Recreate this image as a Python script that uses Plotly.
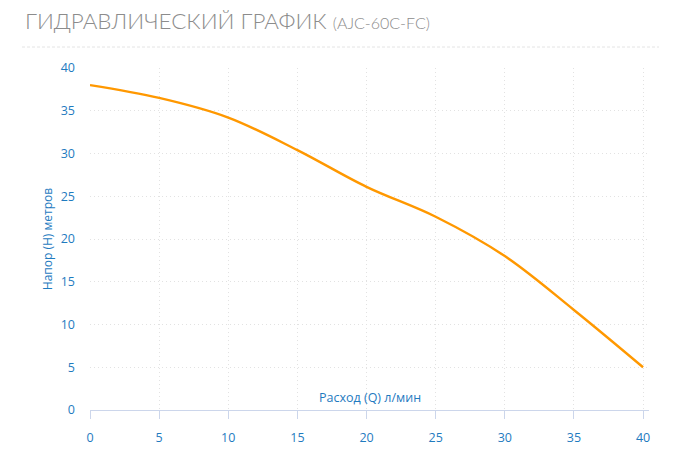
import plotly.graph_objects as go

# расход (л/мин) и напор (м)
flow = [0, 5, 10, 15, 20, 25, 30, 35, 40]
head = [38, 36.5, 34.2, 30.4, 26.1, 22.6, 18, 11.7, 5]

x_ticks = [0, 5, 10, 15, 20, 25, 30, 35, 40]
y_ticks = [0, 5, 10, 15, 20, 25, 30, 35, 40]

blue = "#1f7bbf"
grid = "#e2e2e2"

fig = go.Figure()
fig.add_trace(go.Scatter(
    x=flow, y=head, mode="lines",
    line=dict(color="#ff9800", width=2.4, shape="spline", smoothing=1.0),
    hoverinfo="x+y", showlegend=False,
))

# страница добавляет 8px отступа, поэтому размеры чуть меньше окна
fig.update_layout(
    width=674, height=461,
    margin=dict(l=82, r=33, t=60, b=59, autoexpand=False),
    paper_bgcolor="white", plot_bgcolor="white",
    font=dict(family="Open Sans", size=12, color=blue),
    annotations=[
        dict(text="ГИДРАВЛИЧЕСКИЙ ГРАФИК <span style='font-size:16px'>(AJC-60C-FC)</span>",
             xref="paper", yref="paper", x=0, y=1, xshift=-67, yshift=48,
             xanchor="left", yanchor="middle", showarrow=False,
             font=dict(family="Lato", size=22.4, color="#8c8c8c", weight=300)),
        dict(text="Расход (Q) л/мин", xref="paper", yref="paper",
             x=0.5, y=0, yshift=13, xanchor="center", yanchor="middle",
             showarrow=False, font=dict(size=12.5, color=blue)),
    ],
)

# линия под заголовком
fig.add_shape(type="line", xref="paper", yref="paper",
              x0=-68 / 559, x1=1 + 10 / 559, y0=1 + 21 / 342, y1=1 + 21 / 342,
              line=dict(color="#e4e4e4", width=1, dash="3px,2px"))

fig.update_xaxes(
    range=[0, 40.43], tickvals=x_ticks, ticktext=[str(t) for t in x_ticks],
    showline=True, linecolor="#ccd6eb", linewidth=1,
    ticks="outside", ticklen=8, tickcolor="#ccd6eb",
    ticklabelstandoff=8, tickfont=dict(size=12.5, color=blue),
    showgrid=True, gridcolor=grid, griddash="1px,3px", zeroline=False,
    automargin=False,
)
fig.update_yaxes(
    range=[0, 40], tickvals=y_ticks, ticktext=[str(t) for t in y_ticks],
    showline=False, ticks="", ticklabelstandoff=14,
    tickfont=dict(size=12.5, color=blue),
    showgrid=True, gridcolor=grid, griddash="1px,3px", zeroline=False,
    title=dict(text="Напор (Н) метров", standoff=5, font=dict(size=12, color=blue)),
    automargin=False,
)

fig.write_html("out.html")
